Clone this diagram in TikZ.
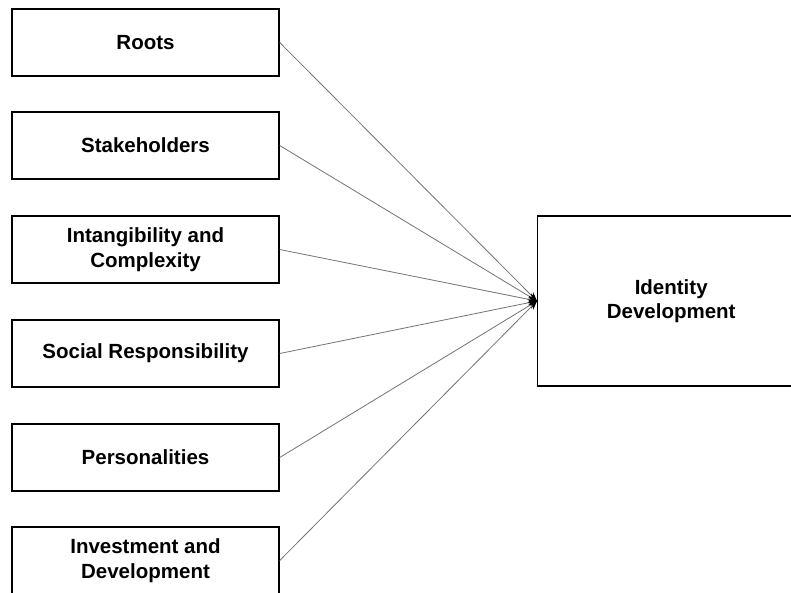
\documentclass[tikz,border=0pt]{standalone}
\usepackage{fontspec}
\setmainfont{Liberation Sans}
\usetikzlibrary{arrows.meta}
\begin{document}
\begin{tikzpicture}[x=1pt,y=1pt,
  factor/.style={draw=black,line width=1.4pt,minimum width=267pt,minimum height=67pt,inner sep=0pt,align=center,
    font=\fontsize{20.5}{24.5}\selectfont\bfseries},
  outcome/.style={draw=black,line width=1.4pt,minimum width=267pt,minimum height=170pt,inner sep=0pt,align=center,
    font=\fontsize{20.5}{24.5}\selectfont\bfseries},
  link/.style={draw={rgb,255:red,115;green,115;blue,115},line width=0.8pt,-{Stealth[length=9pt,width=7pt,black]}}]
\clip (0,0) rectangle (791,-592);
\useasboundingbox (0,0) rectangle (791,-592);
\node[factor] (f1) at (145.5,-42.5) {Roots};
\node[factor] (f2) at (145.5,-145.5) {Stakeholders};
\node[factor] (f3) at (145.5,-249.5) {Intangibility and\\Complexity};
\node[factor] (f4) at (145.5,-353.5) {Social Responsibility};
\node[factor] (f5) at (145.5,-457.5) {Personalities};
\node[factor] (f6) at (145.5,-560.5) {Investment and\\Development};
\node[outcome,anchor=west] (id) at (537,-301) {Identity\\Development};
\foreach \i in {1,...,6}{
  \draw[link] (f\i.east) -- (id.west);
}
\end{tikzpicture}
\end{document}
